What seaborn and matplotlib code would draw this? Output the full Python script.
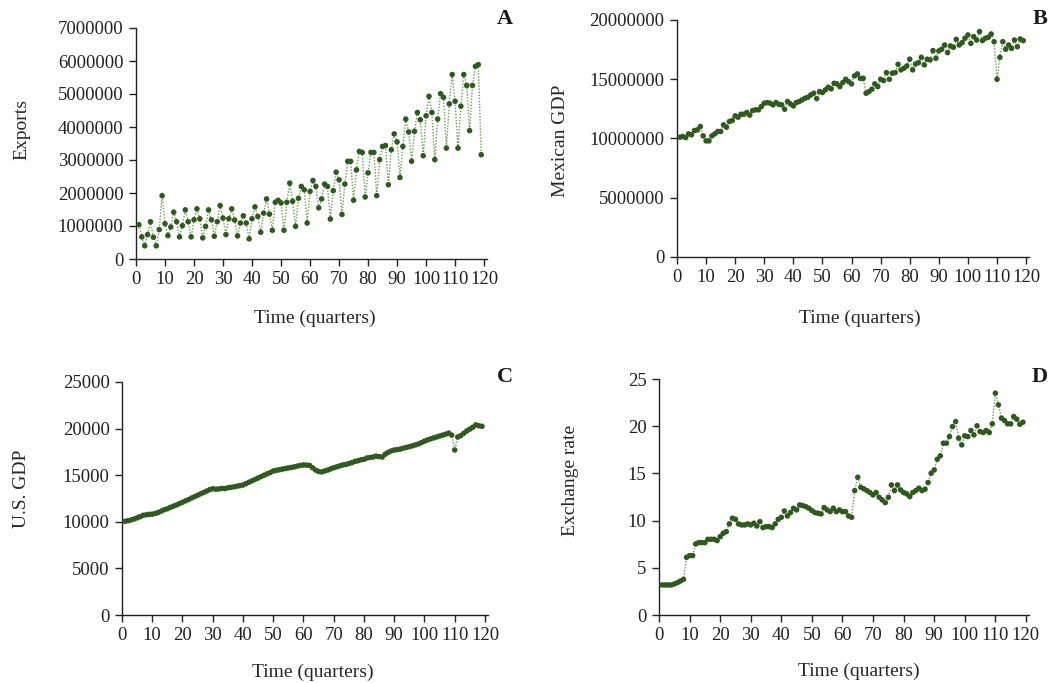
import matplotlib
matplotlib.use("Agg")
import matplotlib.pyplot as plt
import matplotlib.ticker as mticker
import numpy as np
import pandas as pd
import seaborn as sns

# Quarterly series, quarters 1..119
exports = [
    1.04e6, 0.67e6, 0.40e6, 0.74e6, 1.13e6, 0.66e6, 0.40e6, 0.89e6, 1.92e6, 1.07e6,
    0.71e6, 0.97e6, 1.42e6, 1.13e6, 0.67e6, 1.01e6, 1.49e6, 1.13e6, 0.67e6, 1.19e6,
    1.52e6, 1.22e6, 0.64e6, 0.99e6, 1.49e6, 1.19e6, 0.69e6, 1.13e6, 1.62e6, 1.24e6,
    0.74e6, 1.22e6, 1.52e6, 1.18e6, 0.70e6, 1.09e6, 1.31e6, 1.09e6, 0.61e6, 1.22e6,
    1.58e6, 1.29e6, 0.81e6, 1.39e6, 1.82e6, 1.36e6, 0.87e6, 1.72e6, 1.78e6, 1.70e6,
    0.87e6, 1.72e6, 2.30e6, 1.75e6, 0.99e6, 1.84e6, 2.20e6, 2.10e6, 1.09e6, 2.05e6,
    2.38e6, 2.20e6, 1.55e6, 1.82e6, 2.27e6, 2.20e6, 1.21e6, 2.07e6, 2.63e6, 2.40e6,
    1.35e6, 2.27e6, 2.96e6, 2.96e6, 1.78e6, 2.70e6, 3.26e6, 3.23e6, 1.88e6, 2.61e6,
    3.23e6, 3.23e6, 1.92e6, 3.01e6, 3.41e6, 3.44e6, 2.25e6, 3.31e6, 3.79e6, 3.55e6,
    2.47e6, 3.41e6, 4.24e6, 3.85e6, 2.96e6, 3.87e6, 4.44e6, 4.22e6, 3.13e6, 4.34e6,
    4.93e6, 4.44e6, 3.01e6, 4.24e6, 5.01e6, 4.90e6, 3.36e6, 4.70e6, 5.59e6, 4.78e6,
    3.36e6, 4.63e6, 5.59e6, 5.26e6, 3.89e6, 5.26e6, 5.84e6, 5.89e6, 3.16e6,
]

mexican_gdp = [
    10.11e6, 10.17e6, 10.08e6, 10.39e6, 10.31e6, 10.67e6, 10.73e6, 11.01e6, 10.22e6, 9.80e6,
    9.80e6, 10.22e6, 10.39e6, 10.59e6, 10.59e6, 11.15e6, 10.96e6, 11.43e6, 11.52e6, 11.91e6,
    11.80e6, 12.05e6, 12.05e6, 12.19e6, 11.97e6, 12.36e6, 12.42e6, 12.42e6, 12.70e6, 12.98e6,
    13.03e6, 12.98e6, 12.84e6, 13.03e6, 12.89e6, 12.84e6, 12.47e6, 13.12e6, 12.92e6, 12.75e6,
    13.03e6, 13.12e6, 13.26e6, 13.40e6, 13.48e6, 13.68e6, 13.82e6, 13.37e6, 13.96e6, 13.88e6,
    14.10e6, 14.33e6, 14.19e6, 14.66e6, 14.61e6, 14.38e6, 14.72e6, 15.00e6, 14.80e6, 14.61e6,
    15.28e6, 15.45e6, 15.08e6, 15.08e6, 13.82e6, 13.96e6, 14.16e6, 14.61e6, 14.38e6, 15.00e6,
    14.89e6, 15.56e6, 15.00e6, 15.51e6, 15.56e6, 16.26e6, 15.79e6, 15.93e6, 16.12e6, 16.69e6,
    15.79e6, 16.29e6, 16.40e6, 16.85e6, 16.21e6, 16.69e6, 16.63e6, 17.42e6, 16.77e6, 17.39e6,
    17.53e6, 17.89e6, 17.25e6, 17.81e6, 17.70e6, 18.37e6, 17.89e6, 18.09e6, 18.46e6, 18.74e6,
    18.03e6, 18.60e6, 18.31e6, 19.02e6, 18.26e6, 18.46e6, 18.54e6, 18.82e6, 18.17e6, 15.00e6,
    16.85e6, 18.17e6, 17.53e6, 17.89e6, 17.61e6, 18.31e6, 17.75e6, 18.40e6, 18.26e6,
]

us_gdp = [
    10050, 10120, 10200, 10300, 10420, 10550, 10700, 10750, 10800, 10820,
    10900, 11000, 11150, 11300, 11400, 11550, 11680, 11800, 11950, 12100,
    12250, 12380, 12550, 12700, 12850, 13000, 13150, 13300, 13450, 13550,
    13500, 13520, 13580, 13560, 13650, 13700, 13750, 13820, 13880, 13950,
    14100, 14250, 14400, 14550, 14700, 14850, 15000, 15150, 15280, 15450,
    15520, 15580, 15650, 15720, 15780, 15830, 15900, 15980, 16050, 16100,
    16080, 16050, 15800, 15550, 15400, 15350, 15450, 15550, 15680, 15800,
    15900, 16000, 16100, 16150, 16250, 16350, 16480, 16550, 16650, 16700,
    16850, 16900, 16950, 17050, 17000, 16950, 17250, 17450, 17600, 17700,
    17750, 17800, 17900, 17980, 18050, 18150, 18250, 18350, 18500, 18650,
    18780, 18900, 19000, 19100, 19200, 19300, 19400, 19520, 19300, 17700,
    19100, 19250, 19500, 19750, 19950, 20150, 20400, 20300, 20250,
]

exchange_rate = [
    3.18, 3.18, 3.18, 3.18, 3.29, 3.43, 3.60, 3.78, 6.11, 6.29,
    6.29, 7.53, 7.67, 7.67, 7.67, 8.02, 8.02, 8.02, 7.88, 8.30,
    8.66, 8.83, 9.65, 10.25, 10.14, 9.65, 9.54, 9.54, 9.65, 9.54,
    9.72, 9.43, 9.89, 9.26, 9.36, 9.36, 9.26, 9.65, 10.14, 10.35,
    11.02, 10.49, 10.85, 11.31, 11.13, 11.66, 11.59, 11.48, 11.31, 11.06,
    10.85, 10.78, 10.71, 11.38, 11.13, 10.95, 11.31, 10.95, 11.13, 10.95,
    10.95, 10.49, 10.35, 13.18, 14.59, 13.53, 13.36, 13.18, 12.97, 12.72,
    12.97, 12.47, 12.19, 11.91, 12.47, 13.78, 13.18, 13.78, 13.25, 12.97,
    12.83, 12.54, 12.97, 13.18, 13.43, 13.18, 13.32, 14.03, 15.02, 15.37,
    16.50, 16.86, 18.20, 18.20, 18.90, 19.96, 20.49, 18.73, 18.02, 18.98,
    18.90, 19.54, 19.08, 20.04, 19.43, 19.33, 19.54, 19.33, 20.25, 23.50,
    22.26, 20.85, 20.60, 20.25, 20.25, 21.02, 20.74, 20.21, 20.42,
]

x_ticks = list(range(0, 121, 10))

panels = [
    # letter, values, y label, y ticks
    ("A", exports, "Exports", list(range(0, 7000001, 1000000))),
    ("B", mexican_gdp, "Mexican GDP", list(range(0, 20000001, 5000000))),
    ("C", us_gdp, "U.S. GDP", list(range(0, 25001, 5000))),
    ("D", exchange_rate, "Exchange rate", list(range(0, 26, 5))),
]

sns.set_theme(style="ticks")
plt.rcParams["font.family"] = ["Liberation Serif", "DejaVu Serif"]
plt.rcParams["axes.edgecolor"] = "#222222"
plt.rcParams["xtick.color"] = "#222222"
plt.rcParams["ytick.color"] = "#222222"
plt.rcParams["text.color"] = "#1a1a1a"

W, H = 1051, 683
fig = plt.figure(figsize=(W / 100, H / 100), dpi=100)

# axes boxes in pixels: left, right, top, bottom
boxes = {
    "A": (136, 487, 28, 259),
    "B": (677, 1029, 20, 257),
    "C": (122, 488, 382, 615),
    "D": (659, 1029, 379, 615),
}
ylabel_pos = {"A": (-0.325, 0.56), "B": (-0.33, 0.49), "C": (-0.275, 0.54), "D": (-0.24, 0.57)}
xlabel_pos = {"A": (0.51, -0.255), "B": (0.52, -0.257), "C": (0.52, -0.245), "D": (0.54, -0.24)}
letter_pos = {"A": (505, 19), "B": (1040, 19), "C": (505, 377), "D": (1040, 377)}

line_color = "#6f9a55"
dot_color = "#2f5a1f"

for letter, values, ylab, yticks in panels:
    l, r, t, b = boxes[letter]
    ax = fig.add_axes([l / W, 1 - b / H, (r - l) / W, (b - t) / H])
    df = pd.DataFrame({"quarter": np.arange(1, len(values) + 1), "value": values})
    sns.lineplot(data=df, x="quarter", y="value", ax=ax, color=line_color,
                 linestyle=(0, (1, 1.2)), linewidth=1.0)
    sns.scatterplot(data=df, x="quarter", y="value", ax=ax, color=dot_color,
                    s=16, edgecolor="none", zorder=3)
    ax.set_xlim(0, 121)
    ax.set_ylim(0, yticks[-1])
    ax.set_xticks(x_ticks)
    ax.set_yticks(yticks)
    ax.yaxis.set_major_formatter(mticker.FuncFormatter(lambda v, p: f"{int(round(v))}"))
    ax.tick_params(axis="both", labelsize=13.5, length=5, width=1, pad=4)
    for side in ("top", "right"):
        ax.spines[side].set_visible(False)
    for side in ("left", "bottom"):
        ax.spines[side].set_linewidth(1.0)
    ax.set_xlabel("Time (quarters)", fontsize=14)
    ax.set_ylabel(ylab, fontsize=14)
    ax.xaxis.set_label_coords(*xlabel_pos[letter])
    ax.xaxis.label.set_va("center")
    ax.yaxis.set_label_coords(*ylabel_pos[letter])
    ax.yaxis.label.set_va("center")
    lx, ly = letter_pos[letter]
    fig.text(lx / W, 1 - ly / H, letter, fontsize=16, fontweight="bold",
             ha="center", va="center")

fig.savefig("out.png", dpi=100, facecolor="white")
